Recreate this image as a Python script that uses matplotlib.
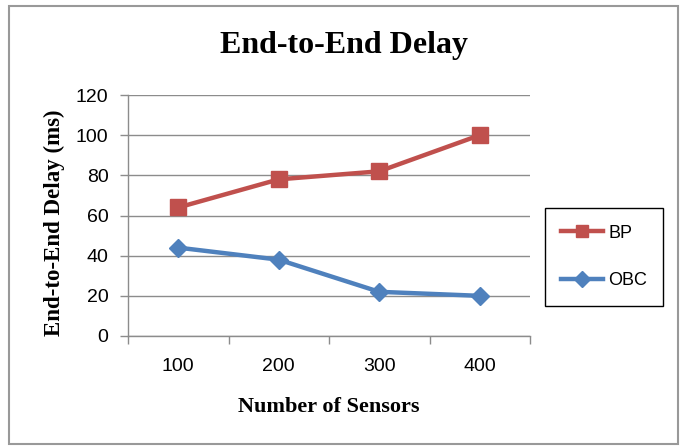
import matplotlib.pyplot as plt
from matplotlib.patches import Rectangle

# data
sensors = ['100', '200', '300', '400']
bp = [64, 78, 82, 100]
obc = [44, 38, 22, 20]

red = '#C0504D'
blue = '#4F81BD'
grid_col = '#8C8C8C'

fig = plt.figure(figsize=(6.84, 4.47), dpi=100)
ax = fig.add_axes([128 / 684, 1 - 336 / 447, (530 - 128) / 684, (336 - 95) / 447])

x = range(len(sensors))
ax.plot(x, bp, color=red, lw=3.2, marker='s', ms=11, label='BP')
ax.plot(x, obc, color=blue, lw=3.2, marker='D', ms=9, label='OBC')

ax.set_xlim(-0.5, len(sensors) - 0.5)
ax.set_ylim(0, 120)
ax.set_yticks(range(0, 121, 20))
ax.set_xticks([i - 0.5 for i in range(len(sensors) + 1)])
ax.set_xticklabels([])
ax.set_xticks(list(x), minor=True)
ax.set_xticklabels(sensors, minor=True)
ax.tick_params(axis='x', which='minor', length=0, pad=16)
ax.tick_params(axis='x', which='major', length=6, color=grid_col, width=1)
ax.tick_params(axis='y', length=6, color=grid_col, width=1, pad=8)
tick_font = 'Liberation Sans'
for lab in ax.get_xticklabels(minor=True) + ax.get_yticklabels():
    lab.set_fontfamily(tick_font)
    lab.set_fontsize(14)

ax.grid(axis='y', color=grid_col, lw=1)
ax.set_axisbelow(True)
for s in ['top', 'right']:
    ax.spines[s].set_visible(False)
for s in ['left', 'bottom']:
    ax.spines[s].set_color(grid_col)
    ax.spines[s].set_linewidth(1)

serif = 'Liberation Serif'
fig.text(344 / 684, 1 - 46 / 447, 'End-to-End Delay',
         ha='center', va='center', fontfamily=serif, fontweight='bold', fontsize=23)
ax.set_xlabel('Number of Sensors', fontfamily=serif, fontweight='bold', fontsize=16)
ax.xaxis.set_label_coords(0.5, -(407 - 336) / 241, transform=ax.transAxes)
ax.xaxis.label.set_va('center')
ax.set_ylabel('End-to-End Delay (ms)', fontfamily=serif, fontweight='bold', fontsize=16.5)
ax.yaxis.set_label_coords(-(128 - 54) / 402, (336 - 223) / 241)
ax.yaxis.label.set_va('center')

leg = fig.legend(loc='center', bbox_to_anchor=(604 / 684, 1 - 257 / 447),
                 frameon=True, fancybox=False, edgecolor='black', framealpha=1,
                 prop={'family': tick_font, 'size': 13}, handlelength=2.3,
                 borderpad=0.9, labelspacing=1.7, handletextpad=0.3,
                 markerscale=0.85)
leg.get_frame().set_linewidth(1)

# outer chart border
fig.patches.append(Rectangle((9 / 684, 3 / 447), 669 / 684, 438 / 447,
                             transform=fig.transFigure, fill=False,
                             edgecolor='#999999', lw=1.5))

fig.savefig('out.png', dpi=100)
